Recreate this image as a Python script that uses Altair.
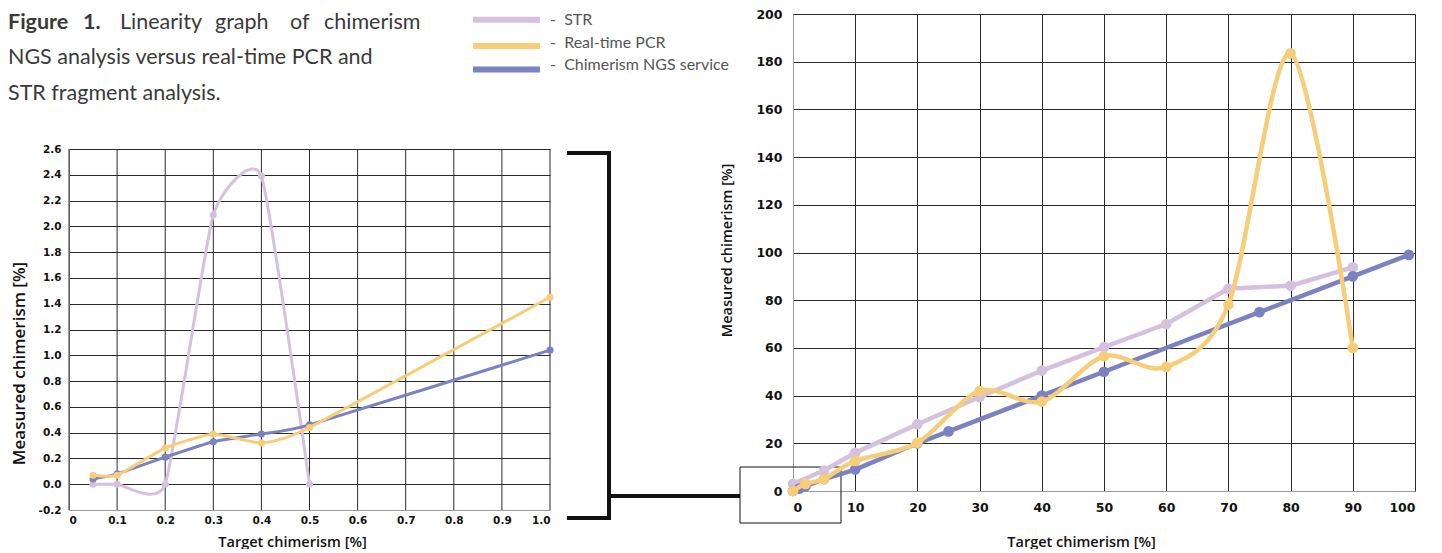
import altair as alt
import pandas as pd

# ---------------- data ----------------
SERIES = ["STR", "Real-time PCR", "Chimerism NGS service"]
COLORS = ["#d5c1df", "#f7cd77", "#7b82c2"]

# left panel: low range (0 - 1 %)
LOW_STR_X = [0.05, 0.1, 0.2, 0.3, 0.4, 0.5]
LOW_STR_Y = [0.0, 0.0, 0.0, 2.09, 2.39, 0.0]
LOW_PCR_X = [0.05, 0.1, 0.2, 0.3, 0.4, 0.5, 1.0]
LOW_PCR_Y = [0.07, 0.07, 0.28, 0.39, 0.32, 0.44, 1.45]
LOW_NGS_X = [0.05, 0.1, 0.2, 0.3, 0.4, 0.5, 1.0]
LOW_NGS_Y = [0.04, 0.08, 0.21, 0.33, 0.39, 0.46, 1.04]

# right panel: full range (0 - 100 %)
HIGH_STR_X = [0, 5, 10, 20, 30, 40, 50, 60, 70, 80, 90]
HIGH_STR_Y = [3, 8.6, 16, 28, 39.4, 50.5, 60.3, 70, 84.8, 86.1, 93.8]
HIGH_PCR_X = [0, 2, 5, 10, 20, 30, 40, 50, 60, 70, 80, 90]
HIGH_PCR_Y = [0, 3, 5, 12.6, 20.2, 41.9, 37.5, 56.5, 52, 78.2, 183.5, 60]
HIGH_NGS_X = [0, 1, 2, 5, 10, 20, 25, 40, 50, 75, 90, 99]
HIGH_NGS_Y = [0, 1, 2, 5, 9, 20, 25, 40, 50, 75, 90, 99]

LOW_X_TICKS = [0, 0.1, 0.2, 0.3, 0.4, 0.5, 0.6, 0.7, 0.8, 0.9, 1.0]
LOW_Y_TICKS = [-0.2, 0.0, 0.2, 0.4, 0.6, 0.8, 1.0, 1.2, 1.4, 1.6, 1.8, 2.0, 2.2, 2.4, 2.6]
HIGH_X_TICKS = [0, 10, 20, 30, 40, 50, 60, 70, 80, 90, 100]
HIGH_Y_TICKS = [0, 20, 40, 60, 80, 100, 120, 140, 160, 180, 200]

TITLE_LINE1 = ["Figure", "1.", "Linearity", "graph", "of", "chimerism"]
TITLE_LINE2 = "NGS analysis versus real-time PCR and"
TITLE_LINE3 = "STR fragment analysis."
X_TITLE = "Target chimerism [%]"
Y_TITLE = "Measured chimerism [%]"

CAP_FONT = "Lato"
LABEL_FONT = "DejaVu Sans"
TITLE_FONT = "Open Sans"
GRID = "#2a2a2a"
ONE = pd.DataFrame({"k": [0]})


def txt(s, x, y, size, weight="normal", color="#3a3a3a", align="left", baseline="alphabetic"):
    return alt.Chart(ONE).mark_text(
        text=s, fontSize=size, fontWeight=weight, color=color, align=align,
        baseline=baseline, font=CAP_FONT,
    ).encode(x=alt.value(x), y=alt.value(y))


def hline(x1, x2, y, w, color="#111111"):
    return alt.Chart(ONE).mark_rule(strokeWidth=w, color=color, strokeCap="butt").encode(
        x=alt.value(x1), x2=alt.value(x2), y=alt.value(y))


def vline(x, y1, y2, w, color="#111111"):
    return alt.Chart(ONE).mark_rule(strokeWidth=w, color=color, strokeCap="butt").encode(
        x=alt.value(x), y=alt.value(y1), y2=alt.value(y2))


def series_layers(xs, ys, interps, tension, xenc, yenc, sw, size):
    layers = []
    for i in [0, 2, 1]:  # STR, NGS, PCR (PCR on top)
        df = pd.DataFrame({"x": xs[i], "y": ys[i], "series": SERIES[i]})
        base = alt.Chart(df)
        line_kw = dict(interpolate=interps[i], strokeWidth=sw, color=COLORS[i])
        if interps[i] == "cardinal":
            line_kw["tension"] = tension
        layers.append(base.mark_line(**line_kw).encode(x=xenc, y=yenc))
        layers.append(base.mark_circle(size=size, color=COLORS[i], opacity=1)
                      .encode(x=xenc, y=yenc))
    return layers


axis_common = dict(
    gridColor=GRID, gridWidth=1, ticks=False, domainColor="#9a9a9a",
    labelFont=LABEL_FONT, labelFontWeight="bold", labelColor="#111111",
    titleFont=TITLE_FONT, titleFontWeight=600, titleColor="#111111",
    titleBaseline="middle",
)

# ---------------- left panel (plot occupies y 135..496 of its 496-px group) ----------------
LEFT_TOP, LEFT_BOTTOM = 135, 496
low_x = alt.X("x:Q", scale=alt.Scale(domain=[0, 1], nice=False, zero=False),
              axis=alt.Axis(values=LOW_X_TICKS, title=X_TITLE, grid=False,
                            labelExpr="datum.value == 0 ? '0' : format(datum.value, '.1f')",
                            labelFontSize=10.5, labelPadding=5, titleFontSize=14.5,
                            titleX=223, titleY=32, **axis_common))
low_y = alt.Y("y:Q", scale=alt.Scale(domain=[-0.2, 2.6], range=[LEFT_BOTTOM, LEFT_TOP],
                                     nice=False, zero=False),
              axis=alt.Axis(values=LOW_Y_TICKS, title=Y_TITLE, grid=True,
                            labelExpr="datum.value < 0 ? '-' + format(-datum.value, '.1f') : format(datum.value, '.1f')",
                            labelFontSize=10.5, labelPadding=8, titleFontSize=17,
                            titleX=-50, titleY=349, **axis_common))

left_layers = []
# figure caption
line1_x = [-61, 14, 51, 146, 221, 255]
for j, w in enumerate(TITLE_LINE1):
    left_layers.append(txt(w, line1_x[j], 15, 21.5, weight="bold" if j < 2 else "normal"))
left_layers.append(txt(TITLE_LINE2, -61, 49.5, 21.5))
left_layers.append(txt(TITLE_LINE3, -61, 85.5, 21.5))
# legend
sw_y = [5.7, 32, 55.5]
tx_y = [11, 33.5, 55.5]
for i, name in enumerate(SERIES):
    left_layers.append(hline(404, 471, sw_y[i], 6, COLORS[i]))
    left_layers.append(txt("-\u00a0\u00a0" + name, 481, tx_y[i], 16, color="#555555"))

# vertical grid lines of the zoomed panel (through the x scale)
left_layers.append(
    alt.Chart(pd.DataFrame({"x": LOW_X_TICKS})).mark_rule(color=GRID, strokeWidth=1).encode(
        x=low_x, y=alt.value(LEFT_TOP), y2=alt.value(LEFT_BOTTOM)))

left_layers += series_layers(
    [LOW_STR_X, LOW_PCR_X, LOW_NGS_X], [LOW_STR_Y, LOW_PCR_Y, LOW_NGS_Y],
    ["cardinal", "cardinal", "cardinal"], 0.5, low_x, low_y, 3, 50)

left = alt.layer(*left_layers).properties(width=481, height=496)

# ---------------- right panel ----------------
hi_x = alt.X("x:Q", scale=alt.Scale(domain=[0, 100], nice=False, zero=False),
             axis=alt.Axis(values=HIGH_X_TICKS, format="d", title=X_TITLE, grid=True,
                           labelFontSize=12.5, labelPadding=10, titleFontSize=14.5,
                           titleX=288, titleY=51, **axis_common))
hi_y = alt.Y("y:Q", scale=alt.Scale(domain=[0, 200], nice=False, zero=False),
             axis=alt.Axis(values=HIGH_Y_TICKS, format="d", title=Y_TITLE, grid=True,
                           labelFontSize=12.5, labelPadding=11, titleFontSize=14.5,
                           titleX=-66, titleY=236, **axis_common))

right_layers = [
    # bracket linking the zoomed panel to the box around the origin
    hline(-226, -182, 139, 4),
    hline(-226, -182, 504, 4),
    vline(-184, 137, 506, 4),
    hline(-184, -53, 482, 4),
    alt.Chart(ONE).mark_rect(fillOpacity=0, stroke="#111111", strokeWidth=1).encode(
        x=alt.value(-53), x2=alt.value(48), y=alt.value(453), y2=alt.value(509)),
]
right_layers += series_layers(
    [HIGH_STR_X, HIGH_PCR_X, HIGH_NGS_X], [HIGH_STR_Y, HIGH_PCR_Y, HIGH_NGS_Y],
    ["linear", "cardinal", "linear"], 0.1, hi_x, hi_y, 4.5, 115)

right = alt.layer(*right_layers).properties(width=622, height=477)

chart = (
    alt.hconcat(left, right, spacing=243, bounds="flush")
    .properties(padding={"left": 0, "top": 0, "right": 0, "bottom": 0}, background="white")
    .configure_view(stroke=None)
)

chart.save("out.html", embed_options={"renderer": "svg", "actions": False})
